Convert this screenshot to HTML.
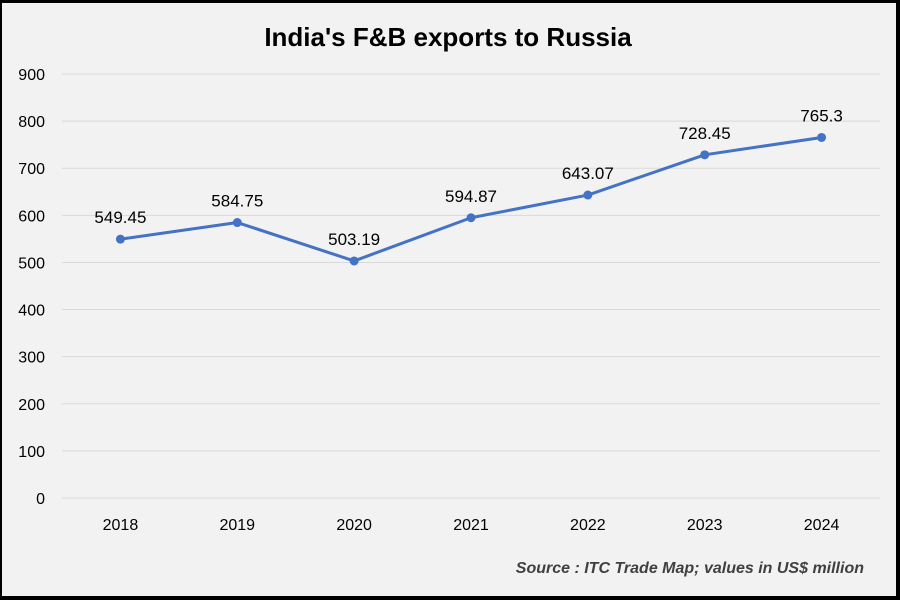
<!DOCTYPE html>
<html><head><meta charset="utf-8"><style>
html,body{margin:0;padding:0;background:#000;}
svg{display:block;font-family:"Liberation Sans",sans-serif;}
</style></head><body>
<svg width="900" height="600">
<rect x="0" y="0" width="900" height="600" fill="#000"/>
<rect x="2" y="3" width="894" height="593" fill="#f2f2f2"/>
<text x="448" y="46" text-anchor="middle" font-size="26" font-weight="bold" fill="#000">India's F&amp;B exports to Russia</text>
<g id="grid"></g><g id="yticks"></g><g id="xticks"></g><g id="series"></g>
<text x="864" y="573" text-anchor="end" font-size="16" font-weight="bold" font-style="italic" fill="#404040">Source : ITC Trade Map; values in US$ million</text>
</svg>
<script>
const categories=["2018","2019","2020","2021","2022","2023","2024"];
const values=[549.45,584.75,503.19,594.87,643.07,728.45,765.3];
const valueLabels=["549.45","584.75","503.19","594.87","643.07","728.45","765.3"];
const yTicks=[0,100,200,300,400,500,600,700,800,900];
const NS="http://www.w3.org/2000/svg";
const x0=62,x1=880,yTop=74,yBot=498,yMax=900;
const step=(x1-x0)/categories.length;
function xs(i){return x0+step*(i+0.5);}
function ys(v){return yBot-(v/yMax)*(yBot-yTop);}
function mk(tag,attrs,parent){const e=document.createElementNS(NS,tag);for(const k in attrs)e.setAttribute(k,attrs[k]);parent.appendChild(e);return e;}
const grid=document.getElementById('grid'),yt=document.getElementById('yticks'),xt=document.getElementById('xticks'),se=document.getElementById('series');
yTicks.forEach(t=>{
 const l=mk('line',{x1:x0,x2:x1,y1:ys(t),y2:ys(t),stroke:'#d9d9d9','stroke-width':1},grid);
 
 
 const tx=mk('text',{x:45,y:ys(t)+6,'text-anchor':'end','font-size':16,fill:'#000'},yt);
 tx.textContent=t;
 
 
});
categories.forEach((c,i)=>{
 const tx=mk('text',{x:xs(i),y:530,'text-anchor':'middle','font-size':16,fill:'#000'},xt);
 tx.textContent=c;
 
 
});
const pts=values.map((v,i)=>xs(i)+','+ys(v)).join(' ');
const pl=mk('polyline',{points:pts,fill:'none',stroke:'#4472c4','stroke-width':3,'stroke-linejoin':'round'},se);


values.forEach((v,i)=>{
 const c=mk('circle',{cx:xs(i),cy:ys(v),r:4.5,fill:'#4472c4'},se);
 
 
 const t=mk('text',{x:xs(i),y:ys(v)-16,'text-anchor':'middle','font-size':17,fill:'#000'},se);
 t.textContent=valueLabels[i];
 
 
});
</script>
</body></html>
